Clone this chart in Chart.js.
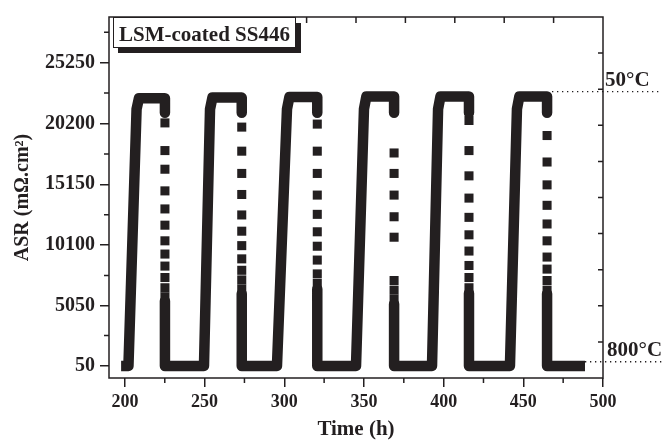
<!DOCTYPE html>
<html>
<head>
<meta charset="utf-8">
<script src="https://cdn.jsdelivr.net/npm/chart.js@4.4.1/dist/chart.umd.min.js"></script>
<style>
  html, body { margin: 0; padding: 0; background: #fff; }
  canvas { display: block; }
</style>
</head>
<body>
<canvas id="asrChart" width="662" height="440"></canvas>
<script>
const ink = '#231f20'

// axis ticks
const timeTicks = [200, 250, 300, 350, 400, 450, 500]
const asrTicks = [50, 5050, 10100, 15150, 20200, 25250]

// measured ASR trace (null = gap where only the sparse points are shown)
const curveTime = [
    197.6, 202.2, 207.3, 208.8, 225.1, 225.1, 225.1,
    225.1, 225.1, 249.6, 253.4, 254.9, 273.3, 273.3, 273.3,
    273.3, 273.3, 295.4, 301.7, 303.2, 320.7, 320.7, 320.7,
    320.7, 320.7, 345.0, 350.0, 351.5, 368.9, 368.9, 368.9,
    368.9, 368.9, 392.7, 396.5, 398.0, 415.9, 415.9, 415.9,
    415.9, 415.9, 441.6, 446.0, 447.5, 464.9, 464.9, 464.9,
    464.9, 464.9, 488.7
]
const curveASR = [
    50, 50, 21400, 22300, 22300, 21100, null,
    5450, 50, 50, 21400, 22350, 22350, 21100, null,
    6050, 50, 50, 21400, 22400, 22400, 21100, null,
    6450, 50, 50, 21400, 22450, 22450, 21100, null,
    5200, 50, 50, 21400, 22450, 22450, 21100, null,
    6100, 50, 50, 21400, 22450, 22450, 21100, null,
    6050, 50, 50
]

// sparse points recorded while cooling back down
const dropTime = [225.1, 273.3, 320.7, 368.9, 415.9, 464.9]
const dropASR = [
    [20250, 17950, 16400, 14600, 13100, 11750, 10450, 9350, 8350, 7400, 6550, 5800],
    [19900, 17900, 16050, 14300, 12600, 11250, 10050, 8950, 8000, 7200, 6450],
    [20150, 17900, 16050, 14250, 12650, 11200, 10000, 8850, 7700, 6900],
    [17750, 16050, 14250, 12450, 10750, 7150, 6350, 5600],
    [20450, 17950, 15850, 14000, 12400, 10950, 9600, 8400, 7400, 6550],
    [19200, 17000, 15100, 13400, 11850, 10450, 9100, 8100, 7150, 6350]
]

// temperature markers on the right
const tempLabels = ['50°C', '800°C']
const tempASR = [22850, 400]
const tempFrom = [468, 488.7]
const tempTo = 537

const curvePoints = curveTime.map((t, i) => ({ x: t, y: curveASR[i] }))
const dropPoints = []
dropTime.forEach((t, i) => {
    for (const v of dropASR[i]) dropPoints.push({ x: t, y: v })
})

const tempDatasets = tempASR.map((v, i) => ({
    label: tempLabels[i],
    data: [{ x: tempFrom[i], y: v }, { x: tempTo, y: v }],
    borderColor: ink,
    borderWidth: 1.3,
    borderDash: [1.3, 3.7],
    pointRadius: 0,
    clip: false
}))

const serif = '"Liberation Serif", "Times New Roman", serif'

// frame, inward ticks on top/right, minor ticks, caption box, temperature labels
const decorations = {
    id: 'decorations',
    afterDraw(chart) {
        const { ctx, chartArea: a } = chart
        const xs = chart.scales.x
        const ys = chart.scales.y
        ctx.save()
        ctx.strokeStyle = ink
        ctx.lineWidth = 1.5
        ctx.strokeRect(a.left, a.top, a.right - a.left, a.bottom - a.top)

        ctx.beginPath()
        for (let k = 1; k < 10; k++) {
            const x = a.left + k * (a.right - a.left) / 10
            ctx.moveTo(x, a.top)
            ctx.lineTo(x, a.top + 6)
            const y = a.top + k * (a.bottom - a.top) / 10
            ctx.moveTo(a.right, y)
            ctx.lineTo(a.right - 5, y)
        }
        for (let t = 225; t < 500; t += 50) {
            const x = xs.getPixelForValue(t)
            ctx.moveTo(x, a.bottom)
            ctx.lineTo(x, a.bottom + 5)
        }
        const yMinor = asrTicks.map(v => v + 2525)
        for (const v of yMinor) {
            const y = ys.getPixelForValue(v)
            if (y < a.top) continue
            ctx.moveTo(a.left, y)
            ctx.lineTo(a.left - 5, y)
        }
        ctx.stroke()

        // caption box with drop shadow
        ctx.fillStyle = ink
        ctx.fillRect(118, 23, 183, 30)
        ctx.fillStyle = '#fff'
        ctx.fillRect(113, 17, 183, 31)
        ctx.lineWidth = 1
        ctx.strokeRect(113.5, 17.5, 182, 30)
        ctx.fillStyle = ink
        ctx.font = 'bold 21px ' + serif
        ctx.textBaseline = 'alphabetic'
        ctx.textAlign = 'left'
        ctx.fillText('LSM-coated SS446', 119, 41)

        ctx.font = 'bold 21px ' + serif
        tempLabels.forEach((txt, i) => {
            const y = ys.getPixelForValue(tempASR[i])
            ctx.fillText(txt, a.right + 2 + i * 2, y - 6)
        })
        ctx.restore()
    }
}

const ctx = document.getElementById('asrChart').getContext('2d')
const chart = new Chart(ctx, {
    type: 'line',
    data: {
        datasets: [
            {
                label: 'ASR',
                data: curvePoints,
                borderColor: ink,
                borderWidth: 10.5,
                borderJoinStyle: 'round',
                borderCapStyle: 'butt',
                pointRadius: 0,
                spanGaps: false,
                tension: 0
            },
            {
                label: 'ASR cooling',
                data: dropPoints,
                showLine: false,
                pointStyle: 'rect',
                pointRadius: 6.4,
                pointBorderWidth: 0,
                pointBackgroundColor: ink,
                pointBorderColor: ink
            },
            ...tempDatasets
        ]
    },
    options: {
        responsive: false,
        animation: false,
        devicePixelRatio: 1,
        layout: { padding: { top: 14, right: 59, left: 0, bottom: 0 } },
        plugins: {
            legend: { display: false },
            tooltip: { enabled: false }
        },
        scales: {
            x: {
                type: 'linear',
                min: 190,
                max: 500,
                afterBuildTicks: (scale) => { scale.ticks = timeTicks.map(v => ({ value: v })) },
                afterFit: (scale) => { scale.height = 62 },
                border: { display: false },
                grid: { drawOnChartArea: false, tickLength: 9, tickColor: ink, lineWidth: 1.5 },
                ticks: {
                    color: ink, padding: 5, maxRotation: 0,
                    callback: (v) => String(v),
                    font: { family: serif, size: 18, weight: 'bold' }
                },
                title: {
                    display: true,
                    text: 'Time (h)',
                    color: ink,
                    padding: { top: 0, bottom: 0 },
                    font: { family: serif, size: 21, weight: 'bold', lineHeight: 1 }
                }
            },
            y: {
                type: 'linear',
                min: -950,
                max: 29050,
                afterBuildTicks: (scale) => { scale.ticks = asrTicks.map(v => ({ value: v })) },
                afterFit: (scale) => { scale.width = 109 },
                border: { display: false },
                grid: { drawOnChartArea: false, tickLength: 9, tickColor: ink, lineWidth: 1.5 },
                ticks: {
                    color: ink, padding: 5,
                    callback: (v) => String(v),
                    font: { family: serif, size: 20, weight: 'bold' }
                },
                title: {
                    display: true,
                    text: 'ASR (mΩ.cm²)',
                    color: ink,
                    padding: { top: 13, bottom: 0 },
                    font: { family: serif, size: 20, weight: 'bold', lineHeight: 1 }
                }
            }
        }
    },
    plugins: [decorations]
})
</script>
</body>
</html>
